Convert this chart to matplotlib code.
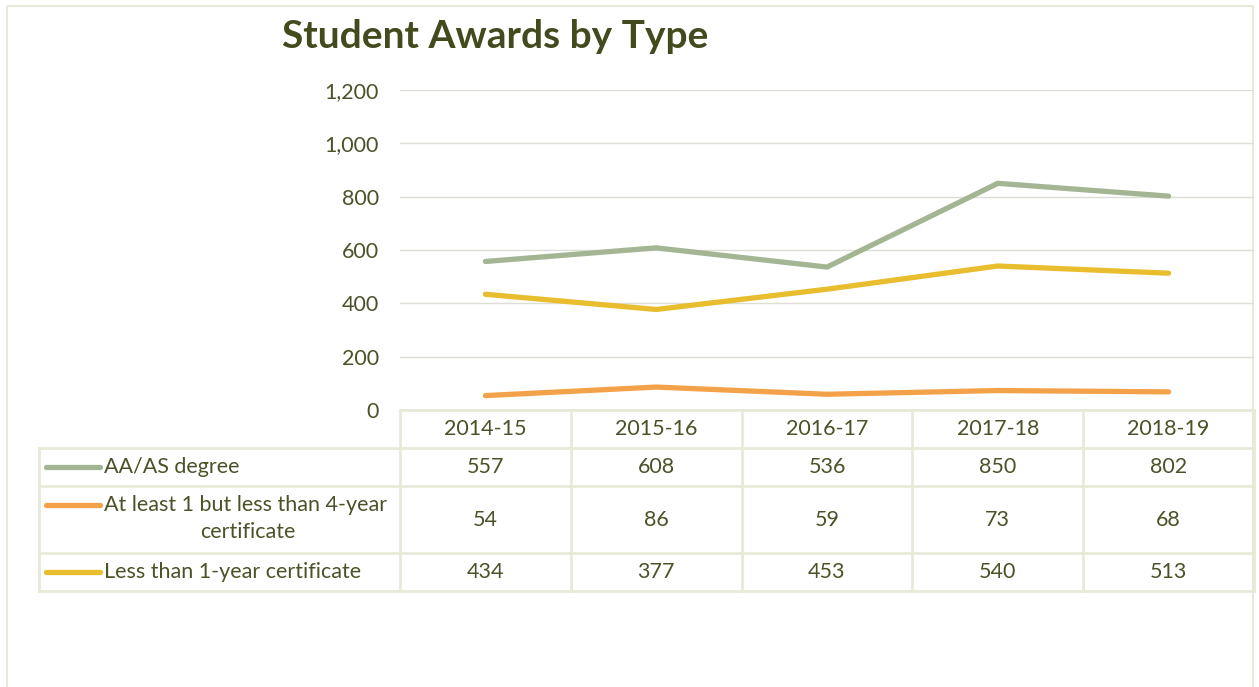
import matplotlib.pyplot as plt
from matplotlib.lines import Line2D
from matplotlib.patches import Rectangle

years = ["2014-15", "2015-16", "2016-17", "2017-18", "2018-19"]
aa_degree = [557, 608, 536, 850, 802]
cert_1_to_4 = [54, 86, 59, 73, 68]
cert_under_1 = [434, 377, 453, 540, 513]

series_names = [
    "AA/AS degree",
    "At least 1 but less than 4-year\ncertificate",
    "Less than 1-year certificate",
]
series_values = [aa_degree, cert_1_to_4, cert_under_1]
series_colors = ["#A3B593", "#F4A24A", "#E8BD2E"]

text_color = "#4B5228"
title_color = "#434A1E"
line_color = "#E8EAD9"
grid_color = "#DCDDD5"
fs = 15.5

plt.rcParams["font.family"] = ["Lato", "DejaVu Sans"]

W, H = 1259, 687
fig = plt.figure(figsize=(W / 100, H / 100), dpi=100)
fig.patch.set_facecolor("white")

# overlay axes in pixel coordinates for the frame and the data table
over = fig.add_axes([0, 0, 1, 1])
over.set_xlim(0, W)
over.set_ylim(H, 0)
over.axis("off")

# plot area
px_left, px_right = 400, 1254
px_zero, px_top = 410, 90
ax = fig.add_axes([px_left / W, 1 - px_zero / H,
                   (px_right - px_left) / W, (px_zero - px_top) / H])
x = list(range(len(years)))
for vals, col in zip(series_values, series_colors):
    ax.plot(x, vals, color=col, lw=3.8, solid_capstyle="round", zorder=3)

ax.set_xlim(-0.5, len(years) - 0.5)
ax.set_ylim(0, 1200)
ax.set_yticks(range(0, 1201, 200))
ax.set_yticklabels([f"{v:,}" for v in range(0, 1201, 200)])
ax.tick_params(axis="y", length=0, pad=15, labelsize=fs, labelcolor=text_color)
ax.set_xticks([])
ax.grid(axis="y", color=grid_color, lw=1)
for s in ax.spines.values():
    s.set_visible(False)
ax.set_facecolor("none")

# outer frame
over.add_patch(Rectangle((7, 6), 1246, 700, fill=False, ec=line_color, lw=1.5))

# title
over.text(495, 37, "Student Awards by Type", ha="center", va="center",
          fontsize=28, fontweight="bold", color=title_color)

# data table
col_edges = [px_left + i * (px_right - px_left) / len(years) for i in range(len(years) + 1)]
row_edges = [410, 448, 486, 553, 591]
tbl_left = 39

def hline(y, x0, x1):
    over.add_line(Line2D([x0, x1], [y, y], color=line_color, lw=2))

def vline(xp, y0, y1):
    over.add_line(Line2D([xp, xp], [y0, y1], color=line_color, lw=2))

hline(row_edges[0], px_left, px_right)
for y in row_edges[1:]:
    hline(y, tbl_left, px_right)
vline(tbl_left, row_edges[1], row_edges[-1])
for xp in col_edges:
    vline(xp, row_edges[0], row_edges[-1])

for i, yr in enumerate(years):
    cx = (col_edges[i] + col_edges[i + 1]) / 2
    over.text(cx, (row_edges[0] + row_edges[1]) / 2, yr, ha="center", va="center",
              fontsize=fs, color=text_color)

for r, (name, vals, col) in enumerate(zip(series_names, series_values, series_colors)):
    y0, y1 = row_edges[r + 1], row_edges[r + 2]
    cy = (y0 + y1) / 2
    for i, v in enumerate(vals):
        cx = (col_edges[i] + col_edges[i + 1]) / 2
        over.text(cx, cy, str(v), ha="center", va="center", fontsize=fs, color=text_color)
    if "\n" in name:
        first, second = name.split("\n")
        ly = y0 + 19
        over.text(104, ly, first, ha="left", va="center", fontsize=fs, color=text_color)
        over.text(248, y0 + 46, second, ha="center", va="center", fontsize=fs, color=text_color)
    else:
        ly = cy
        over.text(104, ly, name, ha="left", va="center", fontsize=fs, color=text_color)
    over.add_line(Line2D([46, 100], [ly, ly], color=col, lw=3.8, solid_capstyle="round"))

fig.savefig("out.png", dpi=100)
